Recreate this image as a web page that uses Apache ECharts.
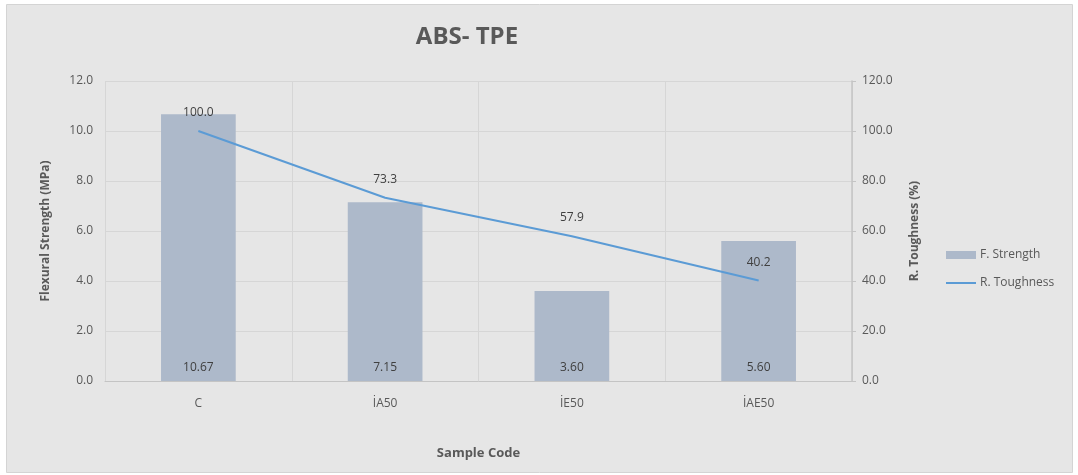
<!DOCTYPE html>
<html>
<head>
<meta charset="utf-8">
<script src="https://cdn.jsdelivr.net/npm/echarts@6/dist/echarts.min.js"></script>
<style>
  html, body { margin: 0; padding: 0; background: #ffffff; }
  #chart { width: 1078px; height: 475px; }
</style>
</head>
<body>
<div id="chart"></div>
<script>
// Sample codes and measured values
const categories = ['C', 'İA50', 'İE50', 'İAE50'];
const flexuralStrength = [10.67, 7.15, 3.60, 5.60];   // MPa
const relativeToughness = [100.0, 73.3, 57.9, 40.2];   // %

const textColor = '#595959';
const lineColor = '#5b9bd5';
const font = 'Open Sans';

const chart = echarts.init(document.getElementById('chart'), null, { renderer: 'canvas' });

chart.setOption({
  backgroundColor: '#ffffff',
  textStyle: { fontFamily: font, color: textColor },
  graphic: [{
    type: 'rect',
    z: -10,
    shape: { x: 6.5, y: 4.5, width: 1066, height: 468 },
    style: { fill: '#e6e6e6', stroke: '#d4d4d4', lineWidth: 1 },
    silent: true
  }],
  title: {
    text: 'ABS- TPE',
    left: 462,
    top: 20,
    textAlign: 'center',
    textStyle: { fontFamily: font, fontSize: 24, fontWeight: 'bold', color: textColor }
  },
  legend: {
    orient: 'vertical',
    left: 941,
    top: 244,
    itemGap: 16,
    itemWidth: 30,
    itemHeight: 8,
    textStyle: { fontFamily: font, fontSize: 12, color: textColor, padding: [0, 0, 0, -1] },
    data: [
      { name: 'F. Strength', icon: 'rect' },
      { name: 'R. Toughness', icon: 'path://M0,0 L30,0 L30,2 L0,2 Z', itemStyle: { color: lineColor, opacity: 1 } }
    ]
  },
  grid: { left: 105, right: 226, top: 81, bottom: 94, containLabel: false },
  xAxis: {
    type: 'category',
    data: categories,
    name: 'Sample Code',
    nameLocation: 'middle',
    nameGap: 66,
    nameTextStyle: { fontFamily: font, fontSize: 13, fontWeight: 'bold', color: textColor },
    axisLine: { show: true, lineStyle: { color: '#c4c4c4', width: 1 } },
    axisTick: { show: false },
    axisLabel: { margin: 17, fontFamily: font, fontSize: 12, color: textColor },
    splitLine: { show: true, lineStyle: { color: '#d6d6d6' } }
  },
  yAxis: [{
    type: 'value',
    min: 0, max: 12, interval: 2,
    name: 'Flexural Strength (MPa)',
    nameLocation: 'middle',
    nameGap: 53,
    nameRotate: 90,
    nameTextStyle: { fontFamily: font, fontSize: 12, fontWeight: 'bold', color: textColor },
    axisLine: { show: false },
    axisTick: { show: false },
    axisLabel: { margin: 12, fontFamily: font, fontSize: 12, color: textColor, formatter: v => v.toFixed(1) },
    splitLine: { show: true, lineStyle: { color: '#d6d6d6' } }
  }, {
    type: 'value',
    min: 0, max: 120, interval: 20,
    name: 'R. Toughness (%)',
    nameLocation: 'middle',
    nameGap: 57,
    nameRotate: 90,
    nameTextStyle: { fontFamily: font, fontSize: 12, fontWeight: 'bold', color: textColor },
    axisLine: { show: true, lineStyle: { color: '#c4c4c4', width: 1.5 } },
    axisTick: { show: true, length: 4, lineStyle: { color: '#c4c4c4' } },
    axisLabel: { margin: 10, fontFamily: font, fontSize: 12, color: textColor, formatter: v => v.toFixed(1) },
    splitLine: { show: false }
  }],
  series: [{
    name: 'F. Strength',
    type: 'bar',
    yAxisIndex: 0,
    data: flexuralStrength,
    barWidth: '40%',
    itemStyle: { color: '#adb9ca' },
    label: {
      show: true,
      position: 'insideBottom',
      distance: 7,
      fontFamily: font,
      fontSize: 12,
      color: '#404040',
      formatter: p => p.value.toFixed(2)
    }
  }, {
    name: 'R. Toughness',
    type: 'line',
    yAxisIndex: 1,
    data: relativeToughness,
    symbol: 'circle',
    symbolSize: 0.5,
    showSymbol: true,
    lineStyle: { color: lineColor, width: 2 },
    itemStyle: { color: lineColor },
    label: {
      show: true,
      position: 'top',
      distance: 12,
      fontFamily: font,
      fontSize: 12,
      color: '#404040',
      formatter: p => p.value.toFixed(1)
    }
  }]
});
</script>
</body>
</html>
